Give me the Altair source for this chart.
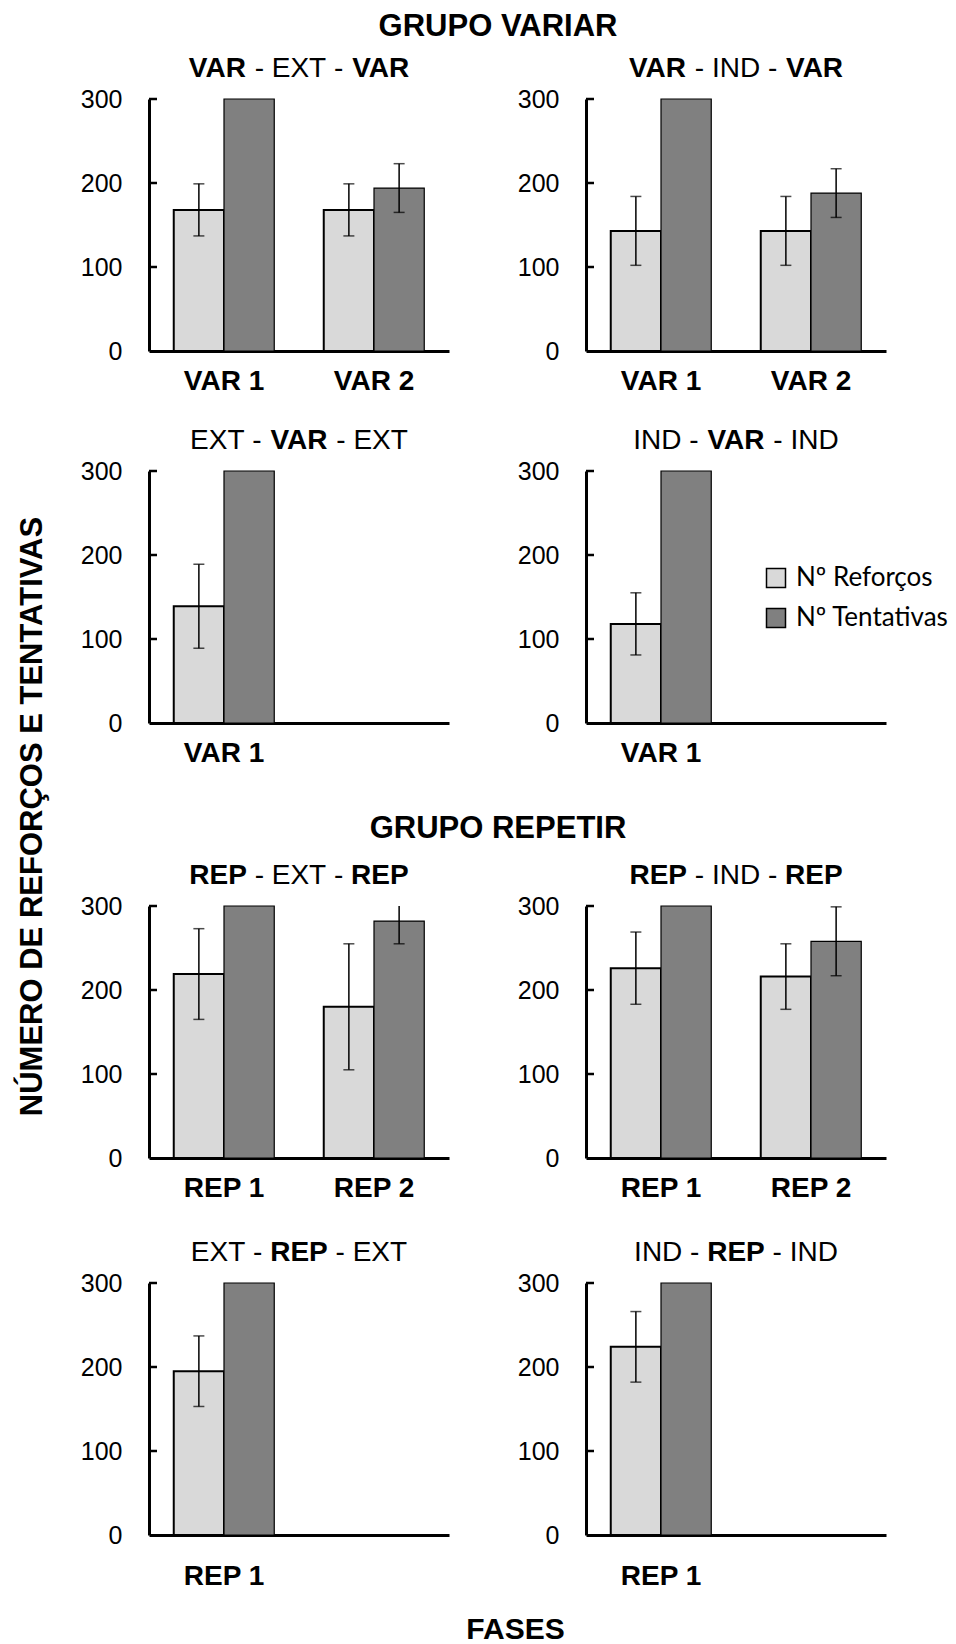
import altair as alt
import pandas as pd

# ---------------- data ----------------
series = ["Nº Reforços", "Nº Tentativas"]
colors = ["#d9d9d9", "#808080"]
y_ticks = [0, 100, 200, 300]
inner_ticks = [100, 200, 300]

p_titles = [
    [("VAR", True), ("EXT", False), ("VAR", True)],
    [("VAR", True), ("IND", False), ("VAR", True)],
    [("EXT", False), ("VAR", True), ("EXT", False)],
    [("IND", False), ("VAR", True), ("IND", False)],
    [("REP", True), ("EXT", False), ("REP", True)],
    [("REP", True), ("IND", False), ("REP", True)],
    [("EXT", False), ("REP", True), ("EXT", False)],
    [("IND", False), ("REP", True), ("IND", False)],
]
p_phases = [["VAR 1", "VAR 2"], ["VAR 1", "VAR 2"], ["VAR 1"], ["VAR 1"],
            ["REP 1", "REP 2"], ["REP 1", "REP 2"], ["REP 1"], ["REP 1"]]
ref_mean = [[168, 168], [143, 143], [139], [118], [219, 180], [226, 216], [195], [224]]
ref_err = [[31, 31], [41, 41], [50], [37], [54, 75], [43, 39], [42], [42]]
ten_mean = [[300, 194], [300, 188], [300], [300], [300, 282], [300, 258], [300], [300]]
ten_err = [[None, 29], [None, 29], [None], [None], [None, 27], [None, 41], [None], [None]]

group_titles = ["GRUPO VARIAR", "GRUPO REPETIR"]
y_title = "NÚMERO DE REFORÇOS E TENTATIVAS"
x_title = "FASES"

# ---------------- layout constants ----------------
FONT = "Liberation Sans"
LEFT_W = 11
COL_GAP = 137
PW, PH = 300, 252
H_TOP, H_GAP1, H_GAP2, H_GAP3, H_BOT = 98, 120, 183, 125, 110

W_REG = {'V': 667, 'A': 667, 'R': 722, 'E': 667, 'X': 667, 'T': 611, 'I': 278,
         'N': 722, 'D': 722, 'P': 667, '-': 333, ' ': 278}
W_BOLD = {'V': 667, 'A': 722, 'R': 722, 'E': 667, 'X': 667, 'T': 611, 'I': 278,
          'N': 722, 'D': 722, 'P': 667, '-': 333, ' ': 278}
SUB_SIZE = 28


def text_w(s, bold, size):
    tab = W_BOLD if bold else W_REG
    return sum(tab[c] for c in s) / 1000.0 * size


def subtitle_layers(pieces):
    parts = [pieces[0], (" - ", False), pieces[1], (" - ", False), pieces[2]]
    widths = [text_w(t, b, SUB_SIZE) for t, b in parts]
    x = PW / 2 - sum(widths) / 2
    layers = []
    for (t, b), w in zip(parts, widths):
        layers.append(
            alt.Chart(alt.Data(values=[{}])).mark_text(
                text=t.strip(), font=FONT, fontSize=SUB_SIZE,
                fontWeight="bold" if b else "normal", color="black",
                align="center", baseline="middle"
            ).encode(x=alt.value(x + w / 2), y=alt.value(-30))
        )
        x += w
    return layers


LEG = alt.Legend(
    orient="none", legendX=762, legendY=564, direction="vertical", title=None,
    symbolType="square", symbolSize=361, symbolStrokeColor="black",
    symbolStrokeWidth=1.5, symbolOpacity=1, labelFont="Lato", labelFontSize=26,
    labelColor="black", labelOffset=7, rowPadding=14, padding=0
)

YAXIS = alt.Axis(title=None, values=y_ticks, ticks=False, tickSize=0,
                 domainColor="black", domainWidth=3, labelFont=FONT,
                 labelFontSize=25, labelColor="black", labelPadding=27,
                 grid=False)


def panel(i, label_pad):
    phases = p_phases[i]
    domain = phases if len(phases) == 2 else phases + [" "]
    rows = []
    for j, ph in enumerate(phases):
        rows.append({"phase": ph, "serie": series[0], "value": ref_mean[i][j], "err": ref_err[i][j]})
        rows.append({"phase": ph, "serie": series[1], "value": ten_mean[i][j], "err": ten_err[i][j]})
    df = pd.DataFrame(rows)
    de = df.dropna(subset=["err"]).copy()
    de["lo"] = de["value"] - de["err"]
    de["hi"] = de["value"] + de["err"]

    xaxis = alt.Axis(title=None, ticks=False, tickSize=0, domainColor="black",
                     domainWidth=3, labelFont=FONT, labelFontSize=28,
                     labelFontWeight="bold", labelColor="black",
                     labelPadding=label_pad, labelAngle=0, grid=False)
    xenc = alt.X("phase:N", scale=alt.Scale(domain=domain, paddingInner=0.33,
                                            paddingOuter=0.165), axis=xaxis)
    xoff = alt.XOffset("serie:N", scale=alt.Scale(domain=series, paddingInner=0,
                                                  paddingOuter=0))
    yscale = alt.Scale(domain=[0, 300], nice=False, zero=True)

    bars = alt.Chart(df).mark_bar(stroke="black").encode(
        x=xenc, xOffset=xoff,
        y=alt.Y("value:Q", scale=yscale, axis=YAXIS),
        color=alt.Color("serie:N", scale=alt.Scale(domain=series, range=colors), legend=LEG),
        strokeWidth=alt.condition(alt.datum.serie == series[0], alt.value(2), alt.value(1.2)),
    )
    ticks_in = alt.Chart(pd.DataFrame({"t": inner_ticks})).mark_rule(
        color="black", strokeWidth=2.5
    ).encode(x=alt.value(0), x2=alt.value(8), y=alt.Y("t:Q", axis=YAXIS))
    rule = alt.Chart(de).mark_rule(color="black", strokeWidth=1.5, clip=True).encode(
        x=alt.X("phase:N", axis=xaxis), xOffset=alt.XOffset("serie:N"),
        y=alt.Y("lo:Q", axis=YAXIS), y2="hi:Q")
    cap_lo = alt.Chart(de).mark_tick(color="black", thickness=1.5, size=11,
                                     orient="horizontal", clip=True).encode(
        x=alt.X("phase:N", axis=xaxis), xOffset=alt.XOffset("serie:N"),
        y=alt.Y("lo:Q", axis=YAXIS))
    cap_hi = alt.Chart(de).mark_tick(color="black", thickness=1.5, size=11,
                                     orient="horizontal", clip=True).encode(
        x=alt.X("phase:N", axis=xaxis), xOffset=alt.XOffset("serie:N"),
        y=alt.Y("hi:Q", axis=YAXIS))
    layers = [bars, ticks_in, rule, cap_lo, cap_hi] + subtitle_layers(p_titles[i])
    return alt.layer(*layers).properties(width=PW, height=PH)


def spacer(w, h, texts=()):
    base = alt.Chart(alt.Data(values=[{}])).mark_text(
        text="", fontSize=1, baseline="top", align="left").encode(
        x=alt.value(0), y=alt.value(0))
    layers = [base]
    for t, x, y, size, angle in texts:
        layers.append(
            alt.Chart(alt.Data(values=[{}])).mark_text(
                text=t, font=FONT, fontSize=size, fontWeight="bold", color="black",
                align="center", baseline="middle", angle=angle
            ).encode(x=alt.value(x), y=alt.value(y))
        )
    return alt.layer(*layers).properties(width=w, height=h)


cells = [
    spacer(LEFT_W, H_TOP), spacer(PW, H_TOP, [(group_titles[0], 349, 26, 31, 0)]), spacer(PW, H_TOP),
    spacer(LEFT_W, PH), panel(0, 16), panel(1, 16),
    spacer(LEFT_W, H_GAP1), spacer(PW, H_GAP1), spacer(PW, H_GAP1),
    spacer(LEFT_W, PH), panel(2, 16), panel(3, 16),
    spacer(LEFT_W, H_GAP2, [(y_title, 31.5, 93.5, 31, 270)]),
    spacer(PW, H_GAP2, [(group_titles[1], 349, 105.5, 31, 0)]), spacer(PW, H_GAP2),
    spacer(LEFT_W, PH), panel(4, 16), panel(5, 16),
    spacer(LEFT_W, H_GAP3), spacer(PW, H_GAP3), spacer(PW, H_GAP3),
    spacer(LEFT_W, PH), panel(6, 27), panel(7, 27),
    spacer(LEFT_W, H_BOT), spacer(PW, H_BOT, [(x_title, 366.5, 95, 30, 0)]), spacer(PW, H_BOT),
]

chart = alt.concat(
    *cells, columns=3, spacing={"row": 0, "column": COL_GAP}, bounds="flush"
).properties(
    padding={"left": 0, "top": 0, "right": 0, "bottom": 0}
).configure(font=FONT).configure_view(stroke="transparent")

chart.save("out.html", embed_options={"renderer": "svg", "actions": False})
